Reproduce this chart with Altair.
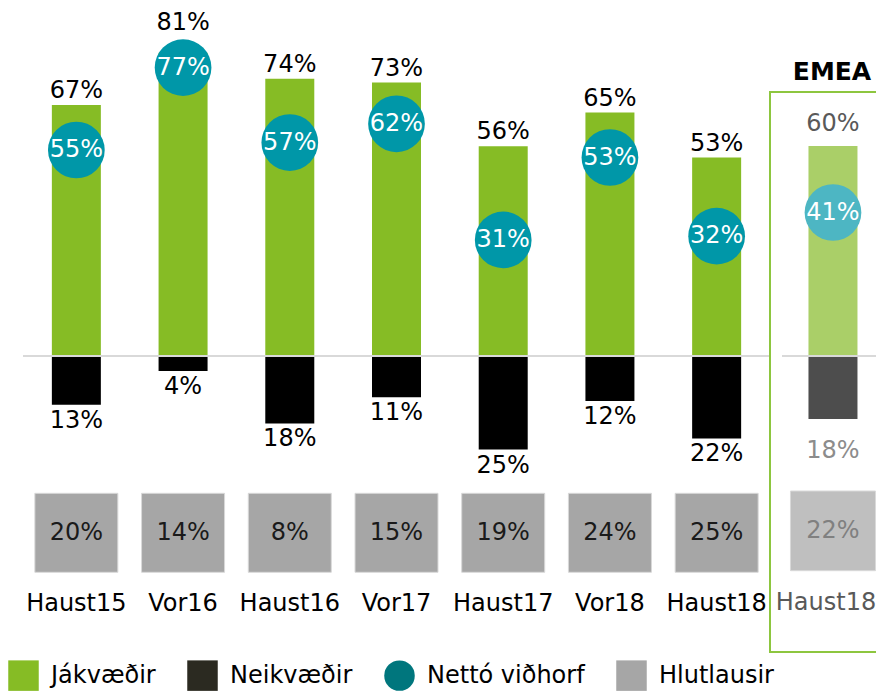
import altair as alt
import pandas as pd

# ---- data ----
categories = ["Haust15", "Vor16", "Haust16", "Vor17", "Haust17", "Vor18", "Haust18"]
jakvaedir = [67, 81, 74, 73, 56, 65, 53]
neikvaedir = [13, 4, 18, 11, 25, 12, 22]
netto = [55, 77, 57, 62, 31, 53, 32]
hlutlausir = [20, 14, 8, 15, 19, 24, 25]

emea_title = "EMEA"
emea_categories = ["Haust18"]
emea_jakvaedir = [60]
emea_neikvaedir = [18]
emea_netto = [41]
emea_hlutlausir = [22]

legend_names = ["Jákvæðir", "Neikvæðir", "Nettó viðhorf", "Hlutlausir"]
legend_colors = ["#86BC25", "#2B2A21", "#00767D", "#A6A6A6"]
legend_shapes = ["square", "square", "circle", "square"]

FONT = "DejaVu Sans"
FS = 24
PANEL_H = 560

main_df = pd.DataFrame({"cat": categories, "pos": jakvaedir, "neg": neikvaedir,
                        "net": netto, "neu": hlutlausir})
emea_df = pd.DataFrame({"cat": emea_categories, "pos": emea_jakvaedir, "neg": emea_neikvaedir,
                        "net": emea_netto, "neu": emea_hlutlausir})
legend_df = pd.DataFrame({"name": legend_names})


def panel(df, cats, ydomain, st, legend=False):
    xs = alt.X("cat:N", sort=cats, axis=None,
               scale=alt.Scale(paddingInner=0, paddingOuter=st["pad_outer"], align=st["align"]))
    ys = alt.Scale(domain=ydomain, nice=False, zero=False)
    base = alt.Chart(df).transform_calculate(
        negv="-datum.neg",
        z="0",
        ly="max(datum.pos + 3.7, datum.net + 12)",
        lpos="datum.pos + '%'",
        lneg="datum.neg + '%'",
        lnet="datum.net + '%'",
        lneu="datum.neu + '%'",
    )
    pos = base.mark_bar(width=49, color=st["pos"]).encode(
        x=xs, y=alt.Y("pos:Q", scale=ys, axis=None), y2=alt.datum(0))
    neg = base.mark_bar(width=49, color=st["neg"]).encode(
        x=xs, y=alt.Y("negv:Q", scale=ys, axis=None), y2=alt.datum(0))
    zero = base.mark_rule(color="#D9D9D9", strokeWidth=2).encode(
        y=alt.Y("z:Q", scale=ys, axis=None),
        x=alt.value(st["rule_x"]), x2=alt.value(st["rule_x2"]))
    toplab = base.mark_text(font=FONT, fontSize=FS, baseline="middle", dy=st["dy_top"],
                            color=st["toptext"]).encode(
        x=xs, y=alt.Y("ly:Q", scale=ys, axis=None), text="lpos:N")
    neglab = base.mark_text(font=FONT, fontSize=FS, baseline="middle", dy=st["dy_neg"],
                            color=st["negtext"]).encode(
        x=xs, y=alt.Y("negv:Q", scale=ys, axis=None), text="lneg:N")
    circ = base.mark_circle(size=3217, color=st["circle"], opacity=1).encode(
        x=xs, y=alt.Y("net:Q", scale=ys, axis=None))
    circlab = base.mark_text(font=FONT, fontSize=FS, baseline="middle", color="white").encode(
        x=xs, y=alt.Y("net:Q", scale=ys, axis=None), text="lnet:N")
    box = base.mark_bar(width=st["box_w"], color=st["box"], stroke="#D9D9D9", strokeWidth=1).encode(
        x=xs, y=alt.value(st["box_y"][0]), y2=alt.value(st["box_y"][1]))
    boxlab = base.mark_text(font=FONT, fontSize=FS, baseline="middle", color=st["boxtext"]).encode(
        x=xs, y=alt.value((st["box_y"][0] + st["box_y"][1]) / 2), text="lneu:N")
    catlab = base.mark_text(font=FONT, fontSize=FS, baseline="middle", dx=st["cat_dx"],
                            color=st["cattext"]).encode(
        x=xs, y=alt.value(st["lab_y"]), text="cat:N")
    layers = [pos, neg, zero, toplab, neglab, circ, circlab, box, boxlab, catlab]
    if legend:
        leg = alt.Chart(legend_df).mark_point(filled=True, size=0, opacity=1).encode(
            color=alt.Color("name:N", sort=legend_names,
                            scale=alt.Scale(domain=legend_names, range=legend_colors),
                            legend=alt.Legend(title=None, orient="none", direction="horizontal",
                                              legendX=-15, legendY=568, symbolSize=930,
                                              symbolStrokeWidth=0, labelFont=FONT,
                                              labelFontSize=FS, labelColor="black",
                                              labelOffset=12, columnPadding=31,
                                              padding=0, labelLimit=300)),
            shape=alt.Shape("name:N", sort=legend_names,
                            scale=alt.Scale(domain=legend_names, range=legend_shapes)),
        )
        layers.append(leg)
    return layers


main_style = {"pos": "#86BC25", "neg": "#000000", "circle": "#0097A8", "box": "#A6A6A6",
              "toptext": "#000000", "negtext": "#000000", "boxtext": "#1A1A1A",
              "cattext": "#000000", "rule_x": 0, "rule_x2": 747,
              "pad_outer": 0, "align": 0.5, "dy_top": 0, "dy_neg": 16,
              "box_y": (401.3, 480.3), "box_w": 83, "lab_y": 512, "cat_dx": 0}
emea_style = {"pos": "#AACF68", "neg": "#4D4D4D", "circle": "#4DB6C3", "box": "#BFBFBF",
              "toptext": "#595959", "negtext": "#8C8C8C", "boxtext": "#808080",
              "cattext": "#595959", "rule_x": 12, "rule_x2": 140,
              "pad_outer": 0.5, "align": 0.484, "dy_top": -9, "dy_neg": 32,
              "box_y": (399, 478.7), "box_w": 85, "lab_y": 510.5, "cat_dx": -7}

main = alt.layer(*panel(main_df, categories, [-79.04, 70.49], main_style, legend=True)
                 ).properties(width=747, height=PANEL_H)

emea = alt.layer(*panel(emea_df, emea_categories, [-84.57, 75.43], emea_style)).properties(
    width=128, height=PANEL_H,
    title=alt.TitleParams(emea_title, font=FONT, fontSize=25, fontWeight="bold", color="black",
                          anchor="middle", baseline="alphabetic", offset=11, dy=24,
                          dx=-2, frame="group"),
    view=alt.ViewBackground(stroke="#8DC63F", strokeWidth=2),
)

chart = alt.hconcat(main, emea, spacing=0, bounds="flush").properties(
    autosize=alt.AutoSizeParams(type="none"),
    padding={"left": 15, "top": 84, "right": 853, "bottom": 595},
).configure_view(stroke="transparent")

chart.save("out.html", embed_options={"renderer": "svg", "actions": False})
